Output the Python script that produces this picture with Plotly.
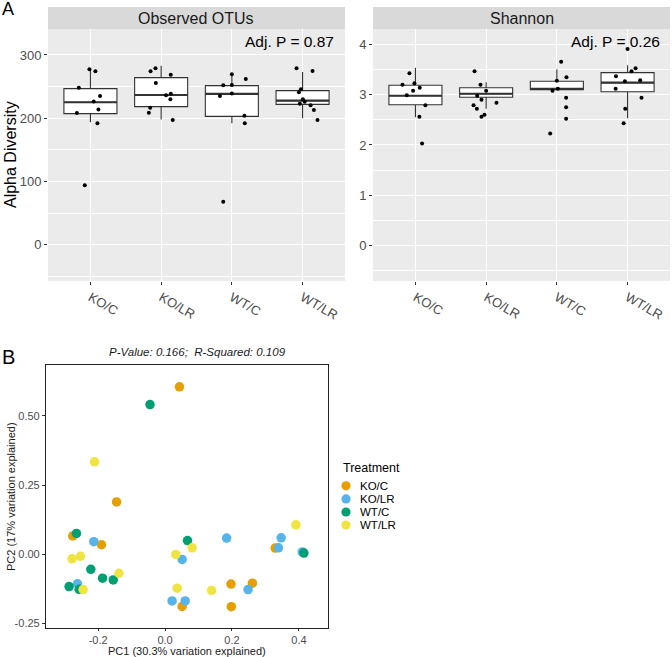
import plotly.graph_objects as go

W, H = 672, 657
FONT = "Liberation Sans, Arial, Helvetica, sans-serif"

# ---------------- data ----------------
categories = ["KO/C", "KO/LR", "WT/C", "WT/LR"]

# Observed OTUs (jittered points) and their horizontal jitter offsets
otu_ko_c = [277.4, 274.2, 248.4, 235.3, 226.3, 213.7, 208.4, 192.1, 94.2]
otu_ko_c_jit = [-0.014, 0.07, -0.164, 0.136, 0.047, 0.113, -0.192, 0.099, -0.08]
otu_ko_lr = [278.9, 274.2, 268.9, 255.8, 236.3, 238.9, 230.0, 216.8, 208.9, 197.4]
otu_ko_lr_jit = [-0.08, -0.15, 0.136, -0.075, 0.07, 0.136, 0.131, -0.155, -0.174, 0.164]
otu_wt_c = [269.5, 262.0, 252.0, 252.6, 235.0, 239.0, 204.0, 192.0, 68.0]
otu_wt_c_jit = [0.0, 0.197, -0.122, 0.0, -0.169, 0.0, 0.178, 0.183, -0.122]
otu_wt_lr = [278.9, 274.7, 245.8, 241.0, 230.0, 223.0, 220.5, 213.2, 197.4, 226.0]
otu_wt_lr_jit = [-0.085, 0.141, -0.023, -0.052, 0.005, -0.038, 0.113, 0.16, 0.211, 0.03]

# Observed OTUs box summaries
otu_lower = [193.7, 197.9, 192.0, 200.0]
otu_q1 = [207.4, 218.4, 203.0, 222.0]
otu_median = [225.3, 236.8, 238.4, 227.9]
otu_q3 = [246.8, 264.2, 251.6, 243.7]
otu_upper = [278.9, 283.0, 267.0, 273.0]

# Shannon (jittered points) and offsets
sh_ko_c = [3.43, 3.20, 3.23, 3.14, 3.08, 2.99, 2.79, 2.56, 2.03]
sh_ko_c_jit = [-0.085, -0.183, -0.014, 0.061, -0.033, -0.122, 0.141, 0.056, 0.094]
sh_ko_lr = [3.47, 3.20, 3.08, 2.98, 2.90, 2.79, 2.72, 2.84, 2.60, 2.56]
sh_ko_lr_jit = [-0.164, -0.08, 0.0, -0.127, -0.066, -0.178, -0.131, 0.146, -0.023, -0.066]
sh_wt_c = [3.66, 3.35, 3.28, 3.08, 3.12, 2.94, 2.75, 2.52, 2.23]
sh_wt_c_jit = [0.061, 0.136, 0.0, -0.061, 0.014, 0.131, 0.131, 0.131, -0.094]
sh_wt_lr = [3.91, 3.53, 3.47, 3.37, 3.27, 3.29, 3.12, 2.94, 2.72, 2.43]
sh_wt_lr_jit = [0.0, 0.113, 0.056, -0.164, -0.038, 0.178, -0.169, 0.197, -0.033, -0.056]

# Shannon box summaries
sh_lower = [2.55, 2.72, 3.09, 2.53]
sh_q1 = [2.80, 2.95, 3.10, 3.06]
sh_median = [2.98, 3.02, 3.12, 3.24]
sh_q3 = [3.19, 3.14, 3.27, 3.44]
sh_upper = [3.54, 3.25, 3.51, 3.59]

# PCoA coordinates
pc1_ko_c = [0.043, -0.145, -0.276, -0.19, 0.329, 0.051, 0.197, 0.261, 0.198]
pc2_ko_c = [0.605, 0.189, 0.066, 0.034, 0.022, -0.189, -0.108, -0.105, -0.19]
pc1_ko_lr = [-0.213, -0.262, 0.051, 0.021, 0.060, 0.184, 0.347, 0.339, 0.248, 0.41]
pc2_ko_lr = [0.045, -0.107, -0.019, -0.169, -0.169, 0.058, 0.059, 0.023, -0.128, 0.008]
pc1_wt_c = [-0.045, -0.265, 0.067, -0.222, -0.187, -0.155, -0.287, -0.257, 0.415]
pc2_wt_c = [0.541, 0.075, 0.049, -0.055, -0.087, -0.093, -0.117, -0.127, 0.004]
pc1_wt_lr = [-0.211, -0.278, -0.253, -0.138, -0.245, 0.032, 0.081, 0.036, 0.139, 0.391]
pc2_wt_lr = [0.334, -0.017, -0.008, -0.069, -0.128, -0.001, 0.023, -0.123, -0.131, 0.106]

group_colors = ["#E69F00", "#56B4E9", "#009E73", "#F0E442"]

# ---------------- helpers ----------------
def px(x):
    return x / W


def py(y):
    return 1 - y / H


fig = go.Figure()

BOX_LINE = "#333333"


def add_panel(ax, ay, groups, jits, lower, q1, med, q3, upper):
    fig.add_trace(go.Box(
        x=list(range(len(categories))), q1=q1, median=med, q3=q3,
        lowerfence=lower, upperfence=upper,
        xaxis=ax, yaxis=ay, fillcolor="white",
        line=dict(color=BOX_LINE, width=1.1), whiskerwidth=0,
        boxpoints=False, width=0.75, showlegend=False, hoverinfo="skip"))
    mx, my = [], []
    for i, m in enumerate(med):
        mx += [i - 0.375, i + 0.375, None]
        my += [m, m, None]
    fig.add_trace(go.Scatter(x=mx, y=my, mode="lines", xaxis=ax, yaxis=ay,
                             line=dict(color=BOX_LINE, width=2.2),
                             showlegend=False, hoverinfo="skip"))
    for i, (vals, jit) in enumerate(zip(groups, jits)):
        fig.add_trace(go.Scatter(
            x=[i + j for j in jit], y=vals, mode="markers", xaxis=ax, yaxis=ay,
            marker=dict(color="black", size=4), showlegend=False, hoverinfo="skip"))


add_panel("x", "y", [otu_ko_c, otu_ko_lr, otu_wt_c, otu_wt_lr],
          [otu_ko_c_jit, otu_ko_lr_jit, otu_wt_c_jit, otu_wt_lr_jit],
          otu_lower, otu_q1, otu_median, otu_q3, otu_upper)
add_panel("x2", "y2", [sh_ko_c, sh_ko_lr, sh_wt_c, sh_wt_lr],
          [sh_ko_c_jit, sh_ko_lr_jit, sh_wt_c_jit, sh_wt_lr_jit],
          sh_lower, sh_q1, sh_median, sh_q3, sh_upper)

pcs = [(pc1_ko_c, pc2_ko_c), (pc1_ko_lr, pc2_ko_lr), (pc1_wt_c, pc2_wt_c), (pc1_wt_lr, pc2_wt_lr)]
for (xs, ys), name, col in zip(pcs, categories, group_colors):
    fig.add_trace(go.Scatter(x=xs, y=ys, mode="markers", name=name, xaxis="x3", yaxis="y3",
                             marker=dict(color=col, size=9.5, line=dict(width=0)),
                             showlegend=False))

# ---------------- axes ----------------
TICKC = "#4D4D4D"
top_x = dict(range=[-0.6, 3.6], tickmode="array", tickvals=list(range(4)), ticktext=categories,
             tickangle=30, showgrid=True, gridcolor="white", gridwidth=1.1, zeroline=False,
             ticks="outside", ticklen=3, tickcolor="#333333",
             tickfont=dict(family=FONT, size=13, color=TICKC), showline=False)

fig.update_layout(
    width=W, height=H, margin=dict(l=0, r=0, t=0, b=0),
    paper_bgcolor="white", plot_bgcolor="#EBEBEB",
    font=dict(family=FONT),
    xaxis=dict(domain=[px(48), px(345)], anchor="y", **top_x),
    xaxis2=dict(domain=[px(373), px(670)], anchor="y2", **top_x),
    yaxis=dict(domain=[py(281), py(29)], anchor="x", range=[-57, 341],
               tickvals=[0, 100, 200, 300], showgrid=True, gridcolor="white", gridwidth=1.1,
               minor=dict(tickvals=[-50, 50, 150, 250], showgrid=True, gridcolor="white",
                          gridwidth=0.55, ticks=""),
               zeroline=False, ticks="outside", ticklen=3, tickcolor="#333333",
               tickfont=dict(family=FONT, size=13, color=TICKC)),
    yaxis2=dict(domain=[py(281), py(29)], anchor="x2", range=[-0.71, 4.31],
                tickvals=[0, 1, 2, 3, 4], showgrid=True, gridcolor="white", gridwidth=1.1,
                minor=dict(tickvals=[-0.5, 0.5, 1.5, 2.5, 3.5], showgrid=True, gridcolor="white",
                           gridwidth=0.55, ticks=""),
                zeroline=False, ticks="outside", ticklen=3, tickcolor="#333333",
                tickfont=dict(family=FONT, size=13, color=TICKC)),
    xaxis3=dict(domain=[px(46), px(328)], anchor="y3", range=[-0.356, 0.487],
                tickvals=[-0.2, 0.0, 0.2, 0.4], ticktext=["-0.2", "0.0", "0.2", "0.4"],
                showgrid=False, zeroline=False, showline=True, mirror=True,
                linecolor="#222222", linewidth=1.2, ticks="outside", ticklen=2,
                tickcolor="#333333", tickfont=dict(family=FONT, size=11, color=TICKC)),
    yaxis3=dict(domain=[py(628), py(365)], anchor="x3", range=[-0.267, 0.684],
                tickvals=[-0.25, 0.0, 0.25, 0.5], ticktext=["-0.25", "0.00", "0.25", "0.50"],
                showgrid=False, zeroline=False, showline=True, mirror=True,
                linecolor="#222222", linewidth=1.2, ticks="outside", ticklen=3,
                tickcolor="#333333", tickfont=dict(family=FONT, size=11, color=TICKC)),
)

shapes = []
# white background for the PCoA panel
shapes.append(dict(type="rect", xref="x3 domain", yref="y3 domain", x0=0, x1=1, y0=0, y1=1,
                   fillcolor="white", line=dict(width=0), layer="below"))
# facet strips
for x0, x1 in [(48, 345), (373, 670)]:
    shapes.append(dict(type="rect", xref="paper", yref="paper", x0=px(x0), x1=px(x1),
                       y0=py(29), y1=py(7), fillcolor="#D9D9D9", line=dict(width=0)))
# legend keys
leg_y = [485.8, 498.9, 512.0, 525.1]
r = 4.6
for yy, col in zip(leg_y, group_colors):
    shapes.append(dict(type="circle", xref="paper", yref="paper",
                       x0=px(346 - r), x1=px(346 + r), y0=py(yy + r), y1=py(yy - r),
                       fillcolor=col, line=dict(width=0)))
fig.update_layout(shapes=shapes)

ann = []


def text(x, y, s, size, color="black", xanchor="center", yanchor="middle", angle=0, pad=1):
    ann.append(dict(x=px(x), y=py(y), xref="paper", yref="paper", text=s, showarrow=False,
                    xanchor=xanchor, yanchor=yanchor, textangle=angle, borderpad=pad,
                    font=dict(family=FONT, size=size, color=color)))


text(196, 18, "Observed OTUs", 16, "#1A1A1A")
text(522, 18, "Shannon", 16, "#1A1A1A")
text(336, 41, "Adj. P = 0.87", 15.5, xanchor="right")
text(662, 41, "Adj. P = 0.26", 15.5, xanchor="right")
text(11, 155, "Alpha Diversity", 16, angle=-90)
text(0, 9, "A", 18, xanchor="left")
text(0, 357, "B", 20, xanchor="left")
text(197, 352, "<i>P-Value: 0.166;\u00a0\u00a0R-Squared: 0.109</i>", 11.5, "#1A1A1A")
text(187, 650.5, "PC1 (30.3% variation explained)", 11, "#1A1A1A")
text(11, 497, "PC2 (17% variation explained)", 11, "#1A1A1A", angle=-90)
text(341, 468, "Treatment", 12.5, xanchor="left")
for yy, name in zip(leg_y, categories):
    text(359, yy, name, 11.5, xanchor="left", pad=0)
fig.update_layout(annotations=ann)

fig.write_html("out.html", config={"displayModeBar": False},
               post_script="document.body.style.margin='0px';document.body.style.overflow='hidden';")
